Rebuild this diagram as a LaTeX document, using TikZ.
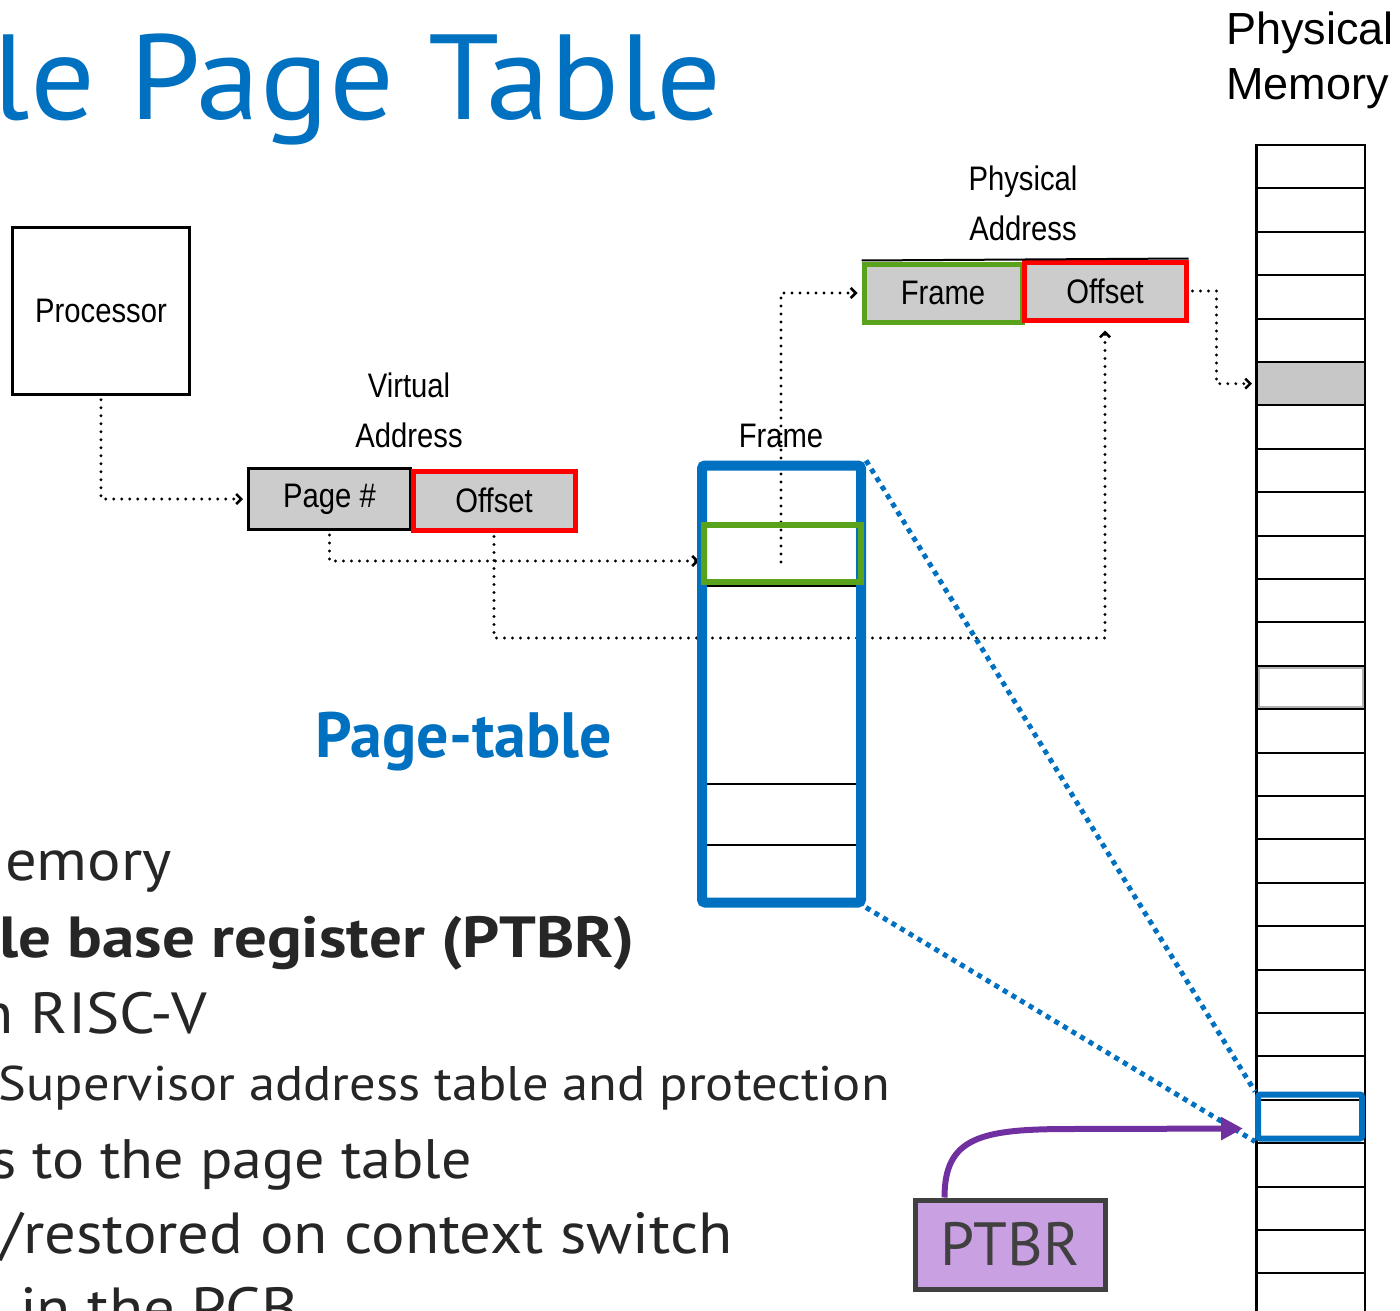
\documentclass[tikz,border=0pt]{standalone}
\usepackage{fontspec}
\setmainfont{PT Sans}
\newfontfamily\bodyfont[FakeStretch=1.08, BoldFeatures={FakeStretch=1.12}]{PT Sans}
\newfontfamily\titlefont[FakeStretch=1.06]{PT Sans}
\newfontfamily\diafont[FakeStretch=0.86]{Liberation Sans}
\newfontfamily\memfont{Liberation Sans}
\usetikzlibrary{arrows.meta,calc}
\definecolor{slideblue}{RGB}{0,112,192}
\definecolor{framegreen}{RGB}{88,162,28}
\definecolor{ptbrfill}{RGB}{201,160,225}
\definecolor{ptbrline}{RGB}{112,48,160}
\tikzset{
  lbl/.style={font=\diafont\fontsize{34}{50}\selectfont, inner sep=0, align=center},
  addr/.style={rectangle, fill=black!20, inner sep=0, font=\diafont\fontsize{34}{34}\selectfont},
  body/.style={font=\bodyfont\fontsize{58}{58}\selectfont, text=black!85, inner sep=0},
  memrow/.style={draw, line width=2pt, minimum width=108pt, minimum height=43.4pt, inner sep=0},
  dotarrow/.style={line width=3.2pt, dash pattern=on 0pt off 8pt, line cap=round,
    -{Straight Barb[length=5pt,width=10pt,line width=2.5pt]}, shorten >=4pt, shorten <=4pt},
  bluedot/.style={slideblue, line width=5pt, dash pattern=on 5pt off 5pt}
}
\begin{document}
\begin{tikzpicture}[x=1pt,y=-1pt]
\useasboundingbox (0,0) rectangle (1400,1311);
\clip (0,0) rectangle (1400,1311);

% slide text
\node[anchor=base east, inner sep=0, text=slideblue, font=\titlefont\fontsize{121}{121}\selectfont] (title) at (722,120) {ble Page Table};
\node[body, anchor=base east] (l1) at (172,880) {emory};
\node[body, anchor=base east, font=\bodyfont\bfseries\fontsize{58}{58}\selectfont] (l2) at (635,957) {le base register (PTBR)};
\node[body, anchor=base east] (l3) at (207,1033) {n RISC-V};
\node[body, anchor=base east, font=\bodyfont\fontsize{48.6}{50}\selectfont] (l4) at (890,1100) {Supervisor address table and protection};
\node[body, anchor=base east, font=\bodyfont\fontsize{55.6}{58}\selectfont] (l5) at (472,1178) {s to the page table};
\node[body, anchor=base east] (l6) at (733,1253) {/restored on context switch};
\node[body, anchor=base west] (l7) at (20,1328) {in the PCB};
\node[anchor=base, inner sep=0, text=slideblue, font=\bfseries\fontsize{64}{64}\selectfont] (ptname) at (464,757) {Page-table};

% physical memory
\node[font=\memfont\fontsize{45}{55}\selectfont, align=left, anchor=north west, inner sep=0] (memlab) at (1226,12) {Physical\\Memory};
\foreach \k in {0,...,27}
  \node[memrow] (m\k) at (1311,{166.7+43.4*\k}) {};
\node[memrow, fill=black!22] (hit) at (m5) {};
\draw[gray!60, line width=1.5pt] ([shift={(3pt,-3pt)}]m12.north west) rectangle ([shift={(-3pt,3pt)}]m12.south east);
\draw[line width=3pt] (m0.north west) -- (m27.south west);

% processor and addresses
\node[draw, line width=2.5pt, minimum width=177pt, minimum height=167pt, inner sep=0, font=\diafont\fontsize{34}{34}\selectfont] (proc) at (101,311) {Processor};
\node[lbl, anchor=north] (vlab) at (409,373) {Virtual\\Address};
\node[addr, draw=black, line width=3pt, minimum width=162pt, minimum height=61pt] (vpage) at (329.5,499) {Page \#};
\node[addr, draw=red, line width=5pt, minimum width=162pt, minimum height=59pt] (voff) at (494,500.5) {Offset};
\node[lbl, anchor=north] (plab) at (1023,166) {Physical\\Address};
\node[addr, draw=framegreen, line width=5pt, minimum width=158pt, minimum height=58pt] (pframe) at (943,293) {Frame};
\node[addr, draw=red, line width=5pt, minimum width=162pt, minimum height=58pt] (poff) at (1105,291) {Offset};
\draw[line width=2pt] ([yshift=1pt]pframe.north west) -- ([yshift=1pt]poff.north east);
\node[lbl, anchor=base] (flab) at (781,447) {Frame};

% dotted paths
\coordinate (ptin) at (703,561);
\coordinate (offturn) at (1105,638);
\draw[dotarrow] (proc.south) |- (vpage.west);
\draw[dotarrow] (vpage.south) |- (ptin);
\draw[dotarrow, shorten >=8pt] (voff.south) |- (offturn) -- (poff.south);
\draw[dotarrow, shorten <=0pt] (781,562) |- (pframe.west);
\draw[dotarrow] (poff.east) -- ++(28,0) |- (m5.west);

% page table
\node[draw=slideblue, line width=10pt, rounded corners=3pt, minimum width=159pt, minimum height=437pt, inner sep=0] (ptab) at (781.5,684) {};
\foreach \yy in {586,784,845}
  \draw[line width=2pt] (707,\yy) -- (856,\yy);
\node[draw=framegreen, line width=6pt, minimum width=157pt, minimum height=57pt, inner sep=0] (prow) at (782.5,553.5) {};

% PTBR
\node[draw=slideblue, line width=6pt, rounded corners=2pt, minimum width=104pt, minimum height=44pt, inner sep=0] (ptrow) at (1310,1116.5) {};
\draw[bluedot] (ptab.north east) -- (ptrow.north west);
\draw[bluedot] (ptab.south east) -- (ptrow.south west);
\node[draw=black!75, line width=5pt, fill=ptbrfill, text=black!75, minimum width=190pt, minimum height=89pt, inner sep=0, font=\fontsize{61}{61}\selectfont] (ptbr) at (1010,1244.5) {PTBR};
\draw[ptbrline, line width=6pt, -{Triangle[length=22pt,width=22pt]}, shorten >=12pt] ([xshift=32pt]ptbr.north west) .. controls +(0,-60) and +(-90,0) .. (1070,1129) -- ([yshift=-12pt]ptrow.west);

\end{tikzpicture}
\end{document}
